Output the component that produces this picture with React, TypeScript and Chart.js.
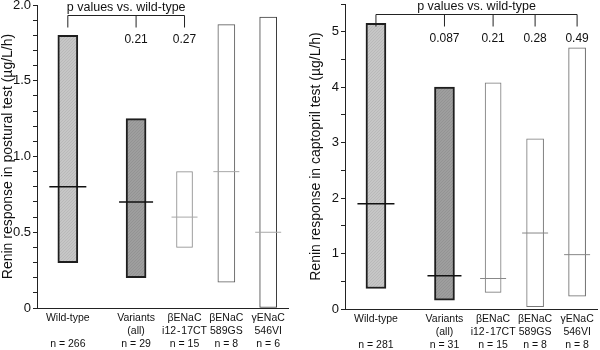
import React, { useEffect, useRef } from "react";
import { Chart, registerables } from "chart.js";

Chart.register(...registerables);

// ---- shared categories ----
const categoryLines: string[][] = [
  ["Wild-type", ""],
  ["Variants", "(all)"],
  ["βENaC", "i12\u200A-\u200A17CT"],
  ["βENaC", "589GS"],
  ["γENaC", "546VI"],
];
const categoryPositions = [1, 2.55, 3.65, 4.6, 5.55];

// ---- postural test ----
const posturalMin = [0.3, 0.2, 0.4, 0.17, 0];
const posturalMax = [1.8, 1.25, 0.9, 1.87, 1.92];
const posturalMedian = [0.8, 0.7, 0.6, 0.9, 0.5];
const posturalN = [266, 29, 15, 8, 6];
const posturalP: (string | null)[] = [null, "0.21", "0.27", null, null];

// ---- captopril test ----
const captoprilMin = [0.37, 0.16, 0.3, 0.04, 0.23];
const captoprilMax = [5.15, 4.0, 4.08, 3.07, 4.71];
const captoprilMedian = [1.9, 0.6, 0.55, 1.37, 0.98];
const captoprilN = [281, 31, 15, 8, 8];
const captoprilP: (string | null)[] = [null, "0.087", "0.21", "0.28", "0.49"];

const FONT = "'Liberation Sans', Arial, Helvetica, sans-serif";

function hatch(base: string, line: string): CanvasPattern | string {
  const c = document.createElement("canvas");
  c.width = 3;
  c.height = 3;
  const g = c.getContext("2d");
  if (!g) return base;
  g.fillStyle = base;
  g.fillRect(0, 0, 3, 3);
  g.fillStyle = line;
  for (let i = 0; i < 3; i++) g.fillRect(i, 2 - i, 1, 1);
  return g.createPattern(c, "repeat") || base;
}

const bracketPlugin = {
  id: "pbracket",
  afterDatasetsDraw(chart: any, _args: any, opts: any) {
    const { ctx, chartArea, scales } = chart;
    const pv: (string | null)[] = opts.pValues || [];
    const xs = categoryPositions.map((v) => scales.x.getPixelForValue(v));
    let last = 0;
    pv.forEach((p, i) => {
      if (p) last = i;
    });
    const by = chartArea.top + 10.5;
    const dy = by + 12;
    ctx.save();
    ctx.strokeStyle = "#222";
    ctx.lineWidth = 1;
    ctx.beginPath();
    ctx.moveTo(xs[0], dy);
    ctx.lineTo(xs[0], by);
    ctx.lineTo(xs[last], by);
    ctx.lineTo(xs[last], dy);
    pv.forEach((p, i) => {
      if (p && i !== last) {
        ctx.moveTo(xs[i], by);
        ctx.lineTo(xs[i], dy);
      }
    });
    ctx.stroke();
    ctx.fillStyle = "#111";
    ctx.textAlign = "center";
    ctx.textBaseline = "middle";
    ctx.font = `12.5px ${FONT}`;
    ctx.fillText("p values vs. wild-type", (xs[0] + xs[last]) / 2, by - 8);
    ctx.font = `12px ${FONT}`;
    pv.forEach((p, i) => {
      if (p) ctx.fillText(p, xs[i], dy + 12);
    });
    ctx.restore();
  },
};

type PanelProps = {
  mins: number[];
  maxs: number[];
  medians: number[];
  ns: number[];
  ps: (string | null)[];
  yMax: number;
  yStep: number;
  labelStep: number;
  fmt: (v: number) => string;
  title: string;
  yWidth: number;
  padTop: number;
  padRight: number;
  xHeight: number;
  titlePad: number;
  borders: string[];
  medianColors: string[];
};

const borderWidths = [2, 2, 1, 1, 1];
const thickness = [20, 20, 16, 17, 17];
const medianRadius = [18.5, 17, 13, 13, 13];
const medianWidths = [1.5, 1.5, 1, 1, 1];

function Panel(props: PanelProps) {
  const ref = useRef<HTMLCanvasElement>(null);
  useEffect(() => {
    if (!ref.current) return;
    const fills = [hatch("#c6c6c6", "#b9b9b9"), hatch("#9e9e9e", "#939393"), "#ffffff", "#ffffff", "#ffffff"];
    const barSets = categoryPositions.map((x, i) => ({
      type: "bar" as const,
      data: [{ x, y: [props.mins[i], props.maxs[i]] }],
      backgroundColor: fills[i],
      borderColor: props.borders[i],
      borderWidth: borderWidths[i],
      barThickness: thickness[i],
      borderSkipped: false,
      grouped: false,
      order: 2,
    }));
    const medianSet = {
      type: "line" as const,
      data: categoryPositions.map((x, i) => ({ x, y: props.medians[i] })),
      showLine: false,
      pointStyle: "line",
      pointRadius: medianRadius,
      pointHoverRadius: medianRadius,
      pointBorderColor: props.medianColors,
      pointBorderWidth: medianWidths,
      clip: false,
      order: 1,
    };
    const chart = new Chart(ref.current, {
      type: "bar",
      data: { datasets: [...barSets, medianSet] as any },
      options: {
        animation: false,
        responsive: false,
        events: [],
        layout: { autoPadding: false, padding: { top: props.padTop, right: props.padRight, left: 0, bottom: 0 } },
        plugins: {
          legend: { display: false },
          tooltip: { enabled: false },
          pbracket: { pValues: props.ps },
        } as any,
        scales: {
          x: {
            type: "linear",
            min: 0.3,
            max: 6.0,
            offset: false,
            grid: { display: false, drawTicks: false },
            border: { display: true, color: "#222", width: 1 },
            afterBuildTicks: (s: any) => {
              s.ticks = categoryPositions.map((v) => ({ value: v }));
            },
            afterFit: (s: any) => {
              s.height = props.xHeight;
              s.paddingLeft = 0;
              s.paddingRight = 0;
            },
            ticks: {
              autoSkip: false,
              maxRotation: 0,
              minRotation: 0,
              padding: 4,
              color: "#111",
              font: { family: FONT, size: 10.5, lineHeight: "13px" },
              callback: (_v: any, i: number) => [...categoryLines[i], `n = ${props.ns[i]}`],
            },
          },
          y: {
            type: "linear",
            min: 0,
            max: props.yMax,
            grid: { display: true, drawOnChartArea: false, drawTicks: true, tickLength: 4, color: "#222" },
            border: { display: true, color: "#222", width: 1 },
            afterFit: (s: any) => {
              s.width = props.yWidth;
              s.paddingTop = 0;
              s.paddingBottom = 0;
            },
            title: {
              display: true,
              text: props.title,
              color: "#111",
              font: { family: FONT, size: 14 },
              padding: { top: props.titlePad, bottom: 0 },
            },
            ticks: {
              stepSize: props.yStep,
              autoSkip: false,
              padding: 2,
              color: "#111",
              font: { family: FONT, size: 13 },
              callback: (v: any) => {
                const n = Number(v);
                const r = n / props.labelStep;
                return Math.abs(r - Math.round(r)) < 1e-6 ? props.fmt(n) : "";
              },
            },
          },
        },
      },
      plugins: [bracketPlugin],
    });
    return () => chart.destroy();
  }, []);
  return <canvas ref={ref} width={300} height={350} style={{ display: "block", width: 300, height: 350 }} />;
}

export default function App() {
  return (
    <div style={{ position: "absolute", left: 0, top: 0, width: 600, height: 350, display: "flex", background: "#fff" }}>
      <Panel
        mins={posturalMin}
        maxs={posturalMax}
        medians={posturalMedian}
        ns={posturalN}
        ps={posturalP}
        yMax={2.0}
        yStep={0.1}
        labelStep={0.5}
        fmt={(v) => (v === 0 ? "0" : v.toFixed(1))}
        title="Renin response in postural test (µg/L/h)"
        yWidth={37}
        padTop={5}
        padRight={12}
        xHeight={42}
        titlePad={0}
        borders={["#1e1e1e", "#1e1e1e", "#8c8c8c", "#5a5a5a", "#3c3c3c"]}
        medianColors={["#111", "#111", "#a8a8a8", "#a8a8a8", "#a8a8a8"]}
      />
      <Panel
        mins={captoprilMin}
        maxs={captoprilMax}
        medians={captoprilMedian}
        ns={captoprilN}
        ps={captoprilP}
        yMax={5.5}
        yStep={0.5}
        labelStep={1}
        fmt={(v) => String(v)}
        title="Renin response in captopril test (µg/L/h)"
        yWidth={45}
        padTop={4}
        padRight={3}
        xHeight={41}
        titlePad={8}
        borders={["#1e1e1e", "#1e1e1e", "#777777", "#777777", "#666666"]}
        medianColors={["#111", "#111", "#888888", "#888888", "#888888"]}
      />
    </div>
  );
}
